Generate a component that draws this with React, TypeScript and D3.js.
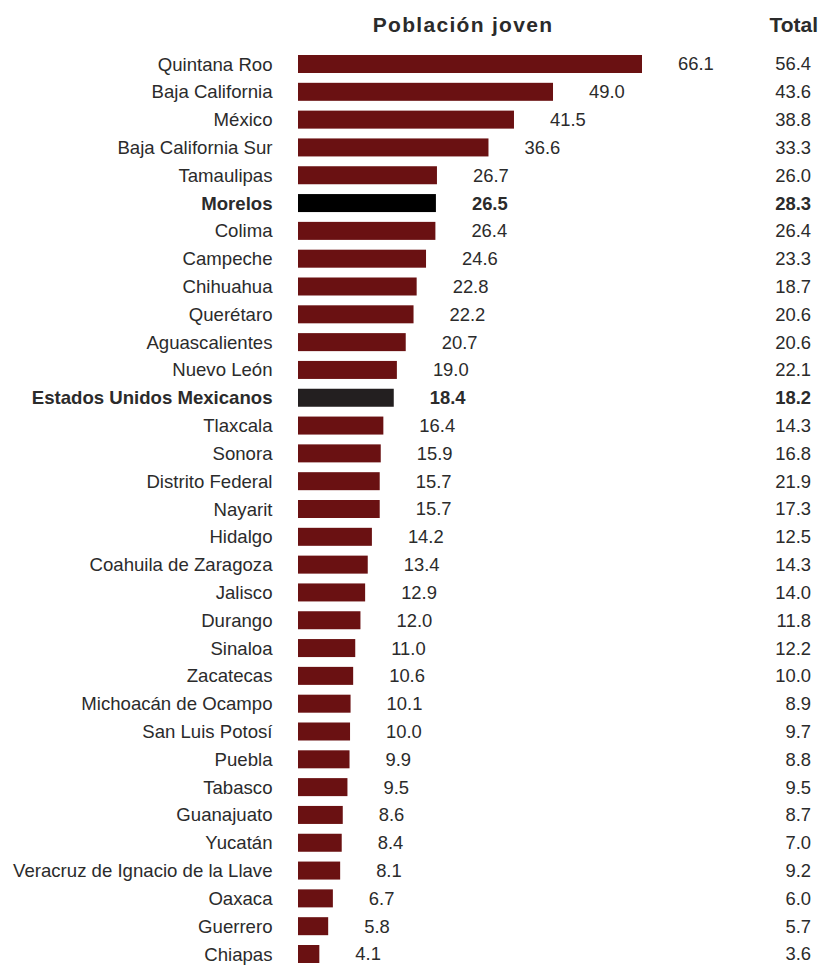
import React from "react";
import * as d3 from "d3";

const states = [
  "Quintana Roo", "Baja California", "México", "Baja California Sur", "Tamaulipas",
  "Morelos", "Colima", "Campeche", "Chihuahua", "Querétaro", "Aguascalientes",
  "Nuevo León", "Estados Unidos Mexicanos", "Tlaxcala", "Sonora", "Distrito Federal",
  "Nayarit", "Hidalgo", "Coahuila de Zaragoza", "Jalisco", "Durango", "Sinaloa",
  "Zacatecas", "Michoacán de Ocampo", "San Luis Potosí", "Puebla", "Tabasco",
  "Guanajuato", "Yucatán", "Veracruz de Ignacio de la Llave", "Oaxaca", "Guerrero", "Chiapas",
];

const joven = [
  66.1, 49.0, 41.5, 36.6, 26.7, 26.5, 26.4, 24.6, 22.8, 22.2, 20.7, 19.0, 18.4,
  16.4, 15.9, 15.7, 15.7, 14.2, 13.4, 12.9, 12.0, 11.0, 10.6, 10.1, 10.0, 9.9,
  9.5, 8.6, 8.4, 8.1, 6.7, 5.8, 4.1,
];

const total = [
  56.4, 43.6, 38.8, 33.3, 26.0, 28.3, 26.4, 23.3, 18.7, 20.6, 20.6, 22.1, 18.2,
  14.3, 16.8, 21.9, 17.3, 12.5, 14.3, 14.0, 11.8, 12.2, 10.0, 8.9, 9.7, 8.8,
  9.5, 8.7, 7.0, 9.2, 6.0, 5.7, 3.6,
];

const highlightState = "Morelos";
const nationalTotal = "Estados Unidos Mexicanos";

const titleText = "Población joven";
const totalHeader = "Total";

export default function App() {
  const width = 822;
  const height = 966;
  const font = "'Liberation Sans', Arial, sans-serif";
  const textColor = "#2b2b2b";

  const y = d3.scalePoint<string>().domain(states).range([64, 954]);
  const x = d3.scaleLinear().domain([0, 66.1]).range([298, 642]);
  const barH = 18;

  const barColor = (s: string) =>
    s === highlightState ? "#000000" : s === nationalTotal ? "#231f20" : "#6a1112";

  return (
    <svg
      width={width}
      height={height}
      style={{ position: "absolute", left: 0, top: 0, background: "#fff" }}
      fontFamily={font}
    >
      <text
        x={463}
        y={32}
        textAnchor="middle"
        fontSize={21}
        fontWeight="bold"
        letterSpacing={1.3}
        fill={textColor}
      >
        {titleText}
      </text>
      <text x={818} y={32} textAnchor="end" fontSize={21} fontWeight="bold" fill={textColor}>
        {totalHeader}
      </text>
      {states.map((s, i) => {
        const cy = y(s) as number;
        const bold = s === highlightState || s === nationalTotal;
        return (
          <g key={s}>
            <text
              x={272.5}
              y={cy}
              dy="0.35em"
              textAnchor="end"
              fontSize={18.6}
              fontWeight={bold ? "bold" : "normal"}
              fill={textColor}
            >
              {s}
            </text>
            <rect
              x={x(0)}
              y={cy - barH / 2}
              width={x(joven[i]) - x(0)}
              height={barH}
              fill={barColor(s)}
            />
            <text
              x={x(joven[i]) + 36}
              y={cy}
              dy="0.35em"
              fontSize={18.4}
              fontWeight={bold ? "bold" : "normal"}
              fill={textColor}
            >
              {d3.format(".1f")(joven[i])}
            </text>
            <text
              x={811}
              y={cy}
              dy="0.35em"
              textAnchor="end"
              fontSize={18.4}
              fontWeight={bold ? "bold" : "normal"}
              fill={textColor}
            >
              {d3.format(".1f")(total[i])}
            </text>
          </g>
        );
      })}
    </svg>
  );
}
